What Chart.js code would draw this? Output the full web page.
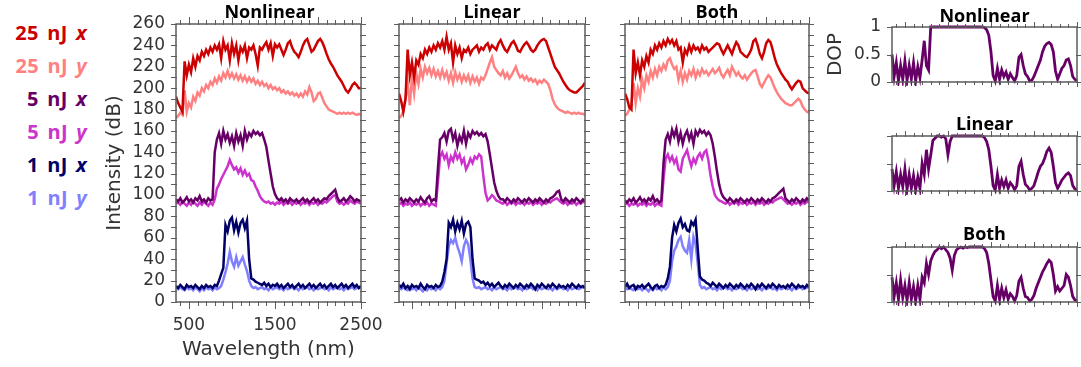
<!DOCTYPE html>
<html>
<head>
<meta charset="utf-8">
<script src="https://cdn.jsdelivr.net/npm/chart.js@4.4.0/dist/chart.umd.min.js"></script>
<style>
  html, body { margin: 0; padding: 0; background: #fff; }
  body { width: 1081px; height: 367px; position: relative; overflow: hidden; }
  canvas { position: absolute; }
  #legend { position: absolute; left: 0; top: 16px; width: 87px; text-align: right;
            font: bold 20px/33px "Open Sans", sans-serif; white-space: nowrap; word-spacing: 3px; letter-spacing: 0.3px; }
</style>
</head>
<body>
<div id="legend"></div>
<canvas id="c1" width="288" height="367" style="left:95px;top:0px"></canvas>
<canvas id="c2" width="205" height="367" style="left:390px;top:0px"></canvas>
<canvas id="c3" width="205" height="367" style="left:615px;top:0px"></canvas>
<canvas id="d1" width="261" height="100" style="left:820px;top:0px"></canvas>
<canvas id="d2" width="261" height="90" style="left:820px;top:110px"></canvas>
<canvas id="d3" width="261" height="100" style="left:820px;top:220px"></canvas>
<script>
// ---------------- DATA ----------------
const wavelength = [
  350,375,400,425,450,475,500,525,
  550,575,600,625,650,675,700,725,
  750,775,800,825,850,875,900,925,
  950,975,1000,1025,1050,1075,1100,1125,
  1150,1175,1200,1225,1250,1275,1300,1325,
  1350,1375,1400,1425,1450,1475,1500,1525,
  1550,1575,1600,1625,1650,1675,1700,1725,
  1750,1775,1800,1825,1850,1875,1900,1925,
  1950,1975,2000,2025,2050,2075,2100,2125,
  2150,2175,2200,2225,2250,2275,2300,2325,
  2350,2375,2400,2425,2450,2475,2500];

const seriesNames = ['25 nJ x','25 nJ y','5 nJ x','5 nJ y','1 nJ x','1 nJ y'];
const panelTitles = ['Nonlinear','Linear','Both'];

// Nonlinear panel
const NL_25x = [
  192,186,182,178,225,212,222,215,
  228,220,230,226,234,230,236,232,
  238,234,240,236,241,228,244,236,
  240,226,242,232,240,226,238,234,
  240,228,238,236,240,232,221,238,
  236,240,243,236,242,230,241,238,
  241,236,231,236,242,244,238,234,
  232,229,234,240,244,246,240,234,
  236,240,244,246,243,238,232,227,
  223,220,216,212,209,206,202,198,
  196,199,203,205,203,200,200];
const NL_25y = [
  172,174,177,175,198,178,186,182,
  192,188,196,193,200,197,203,200,
  206,203,209,205,211,207,214,210,
  216,210,214,209,213,208,212,207,
  211,206,210,206,209,204,207,203,
  206,202,204,200,203,199,201,198,
  200,196,198,195,197,194,196,193,
  195,192,195,192,197,194,201,196,
  188,190,195,196,191,186,183,180,
  179,178,177,176,177,176,177,176,
  177,176,177,176,175,176,175];
const NL_5x = [
  96,94,97,93,95,98,94,96,
  93,97,95,99,94,96,93,97,
  95,96,140,152,158,148,160,152,
  157,149,155,146,158,150,156,146,
  160,152,158,155,160,157,159,156,
  158,152,145,132,120,108,101,97,
  95,97,94,96,93,97,95,94,
  96,93,95,97,94,96,93,95,
  97,94,96,93,95,97,96,99,
  101,103,105,98,94,95,97,94,
  96,99,97,94,96,95,94];
const NL_5y = [
  92,93,91,94,92,90,93,91,
  94,92,90,93,91,94,92,90,
  93,91,96,106,110,115,119,123,
  127,133,128,124,126,121,125,119,
  123,118,120,114,113,108,104,99,
  96,94,93,94,92,93,91,93,
  92,94,91,93,92,94,91,93,
  92,94,91,93,92,94,91,93,
  92,94,91,93,92,94,93,95,
  97,99,100,94,92,93,91,93,
  92,95,93,92,94,93,92];
const NL_1x = [
  15,13,16,14,12,16,14,15,
  13,16,14,12,15,13,16,14,
  15,13,16,15,20,26,32,72,
  66,76,79,67,75,65,74,77,
  69,76,40,22,21,19,18,17,
  16,18,15,17,14,16,15,17,
  14,16,13,15,17,14,16,13,
  15,17,14,16,13,15,17,14,
  16,13,15,17,14,16,13,15,
  17,14,16,13,15,17,14,16,
  13,15,17,14,16,13,15];
const NL_1y = [
  13,12,14,12,11,14,12,13,
  11,14,12,10,13,11,14,12,
  13,11,14,12,13,15,21,28,
  36,47,38,33,42,34,38,42,
  35,29,20,15,13,14,12,13,
  14,12,13,11,14,12,13,14,
  12,13,11,14,12,13,14,12,
  13,11,14,12,13,14,12,13,
  11,14,12,13,14,12,13,11,
  14,12,13,14,12,13,11,14,
  12,13,14,12,13,14,13];

// Linear panel
const LI_25x = [
  195,188,178,190,236,212,224,210,
  226,222,232,228,236,232,238,234,
  240,236,242,238,244,236,248,236,
  242,224,240,232,238,228,236,234,
  238,232,236,238,240,234,238,236,
  240,242,236,240,238,236,242,245,
  240,236,234,238,242,244,240,235,
  234,238,241,243,240,236,234,236,
  240,243,245,246,244,238,232,226,
  220,217,214,210,206,203,200,198,
  197,196,196,198,200,202,205];
const LI_25y = [
  172,174,178,190,205,184,210,195,
  214,204,218,210,220,214,219,212,
  218,211,216,210,217,210,215,207,
  214,205,215,208,213,206,212,207,
  212,205,211,206,210,204,210,208,
  212,218,224,229,220,217,214,212,
  216,210,214,209,212,216,220,214,
  210,212,208,211,207,209,206,208,
  204,207,205,208,206,204,198,190,
  185,182,180,179,178,177,178,177,
  176,177,176,177,176,176,175];
const LI_5x = [
  95,97,93,96,94,97,95,93,
  96,94,98,95,93,97,99,94,
  96,95,125,152,154,158,150,160,
  162,152,158,146,155,150,160,148,
  158,154,160,157,159,156,158,155,
  157,150,138,125,112,104,99,96,
  96,94,97,95,93,96,94,97,
  95,93,96,94,97,95,93,96,
  94,97,95,93,96,94,97,98,
  100,103,104,96,94,97,95,93,
  96,94,97,95,93,96,94];
const LI_5y = [
  91,93,90,92,91,93,90,92,
  91,93,90,92,91,93,90,92,
  91,90,112,136,140,134,138,128,
  136,132,140,134,138,130,134,124,
  128,134,130,136,134,138,136,118,
  102,95,97,100,98,95,94,93,
  92,94,91,93,92,94,91,93,
  92,94,91,93,92,94,91,93,
  92,94,91,93,92,94,93,95,
  96,97,95,93,92,94,91,93,
  92,94,91,93,92,94,93];
const LI_1x = [
  16,14,17,13,15,12,16,14,
  15,13,17,14,12,16,14,15,
  13,16,14,15,19,28,40,74,
  70,77,66,74,68,76,64,73,
  75,70,40,22,21,20,18,19,
  16,18,15,17,14,16,18,15,
  13,16,14,17,15,13,16,14,
  17,15,13,16,14,17,15,12,
  16,14,17,15,13,16,14,17,
  15,13,16,14,15,13,16,14,
  17,15,13,16,14,15,13];
const LI_1y = [
  13,12,14,12,11,14,12,13,
  11,14,12,10,13,11,14,12,
  13,11,14,12,14,20,36,52,
  58,55,60,52,46,38,52,58,
  54,40,22,14,13,14,12,13,
  14,12,13,11,14,12,13,14,
  12,13,11,14,12,13,14,12,
  13,11,14,12,13,14,12,13,
  11,14,12,13,14,12,13,11,
  14,12,13,14,12,13,11,14,
  12,13,14,12,13,14,13];

// Both panel
const BO_25x = [
  195,190,182,180,236,214,224,212,
  226,220,230,224,236,232,240,236,
  242,238,244,240,246,242,245,240,
  244,236,238,224,236,232,240,234,
  240,236,238,234,240,236,238,234,
  236,238,240,242,241,236,232,236,
  240,236,232,238,243,240,234,232,
  230,229,232,236,244,246,240,232,
  228,234,242,245,243,236,228,222,
  218,214,211,208,206,202,199,202,
  205,207,206,200,198,196,195];
const BO_25y = [
  174,176,180,184,205,186,200,192,
  208,200,212,206,216,210,218,212,
  220,216,222,218,226,228,222,218,
  220,208,216,206,214,208,216,212,
  218,210,216,212,218,214,216,212,
  215,218,214,216,219,213,210,214,
  217,212,220,216,212,215,211,209,
  212,208,211,214,216,217,211,204,
  201,205,209,212,210,205,200,196,
  193,190,188,186,185,184,184,186,
  188,190,188,183,180,178,177];
const BO_5x = [
  95,93,96,94,97,93,95,98,
  94,96,93,97,95,99,94,96,
  93,95,130,152,157,150,161,155,
  162,150,158,148,156,160,152,158,
  148,160,156,161,158,160,156,159,
  156,148,136,122,110,102,98,96,
  94,97,95,93,96,94,97,95,
  93,96,94,97,95,93,96,94,
  97,95,93,96,94,97,98,100,
  102,104,106,97,95,93,96,94,
  97,95,93,96,94,97,95];
const BO_5y = [
  91,93,90,92,91,93,90,92,
  91,93,90,92,91,93,90,92,
  91,90,115,134,138,132,136,130,
  134,124,122,134,138,142,134,127,
  134,130,136,139,134,140,142,132,
  118,108,100,97,95,94,93,92,
  94,91,93,92,94,91,93,92,
  94,91,93,92,94,91,93,92,
  94,91,93,92,94,93,95,96,
  97,98,96,94,92,93,91,93,
  92,94,91,93,92,94,93];
const BO_1x = [
  14,17,13,15,16,12,15,14,
  16,13,15,17,14,12,15,16,
  13,15,14,16,22,33,60,72,
  66,74,78,70,73,67,66,75,
  72,77,50,24,21,20,18,17,
  15,18,16,14,17,15,13,16,
  14,17,15,13,16,14,17,15,
  13,16,14,17,15,12,16,14,
  17,15,13,16,14,17,15,13,
  16,14,15,13,16,14,17,15,
  13,16,14,15,13,16,14];
const BO_1y = [
  13,12,14,12,11,14,12,13,
  11,14,12,10,13,11,14,12,
  13,11,14,12,14,20,38,48,
  52,58,61,52,48,46,58,40,
  61,54,36,16,13,14,12,13,
  14,12,13,11,14,12,13,14,
  12,13,11,14,12,13,14,12,
  13,11,14,12,13,14,12,13,
  11,14,12,13,14,12,13,11,
  14,12,13,14,12,13,11,14,
  12,13,14,12,13,14,13];

// Degree of polarization
const DOP_NL = [
  0.5,0.1,0.35,0.02,0.3,0.05,0.38,0.03,
  0.3,0.06,0.35,0.02,0.28,0.08,0.4,0.75,
  0.3,0.22,1,1,1,1,1,1,
  1,1,1,1,1,1,1,1,
  1,1,1,1,1,1,1,1,
  1,1,1,0.99,0.95,0.85,0.55,0.12,
  0.02,0.25,0.05,0.22,0.1,0.18,0.05,0.15,
  0.08,0.02,0.12,0.45,0.5,0.3,0.15,0.1,
  0.02,0.03,0.1,0.2,0.3,0.4,0.55,0.65,
  0.7,0.72,0.68,0.55,0.2,0.05,0.15,0.25,
  0.3,0.4,0.42,0.3,0.1,0.05,0.02];
const DOP_LI = [
  0.4,0.1,0.35,0.05,0.3,0.08,0.4,0.03,
  0.3,0.05,0.28,0.02,0.25,0.05,0.5,0.3,
  0.75,0.4,0.65,0.92,0.96,1,1,0.98,
  1,0.95,0.66,0.9,1,1,1,1,
  1,1,1,1,1,1,1,1,
  1,1,1,0.97,0.9,0.75,0.45,0.1,
  0.02,0.3,0.05,0.2,0.08,0.2,0.05,0.15,
  0.1,0.02,0.1,0.45,0.54,0.3,0.12,0.08,
  0.02,0.05,0.1,0.22,0.35,0.45,0.5,0.6,
  0.72,0.78,0.7,0.45,0.15,0.05,0.12,0.2,
  0.25,0.3,0.33,0.28,0.1,0.04,0.02];
const DOP_BO = [
  0.45,0.1,0.35,0.05,0.4,0.08,0.3,0.03,
  0.35,0.05,0.28,0.02,0.3,0.05,0.45,0.35,
  0.7,0.5,0.75,0.85,0.92,0.95,1,0.97,
  1,0.95,0.9,0.8,0.58,0.85,0.95,0.98,
  1,0.98,1,0.99,1,1,1,1,
  1,1,1,0.97,0.9,0.7,0.4,0.1,
  0.02,0.3,0.05,0.25,0.08,0.22,0.05,0.15,
  0.1,0.02,0.12,0.38,0.45,0.25,0.1,0.08,
  0.02,0.05,0.12,0.25,0.35,0.45,0.55,0.62,
  0.7,0.76,0.72,0.5,0.2,0.28,0.2,0.25,
  0.3,0.5,0.45,0.3,0.1,0.04,0.02];

// Tick positions and labels
const xTickLabels = [500,1500,2500];
const xMajorTicks = [500,1000,1500,2000,2500];
const xMinorTicks = [400,500,600,700,800,900,1000,1100,1200,1300,1400,1500,1600,1700,1800,1900,2000,2100,2200,2300,2400,2500];
const yTickLabels = [0,20,40,60,80,100,120,140,160,180,200,220,240,260];
const yMinorTicks = [0,10,20,30,40,50,60,70,80,90,100,110,120,130,140,150,160,170,180,190,200,210,220,230,240,250,260];
const dopTickLabels = [0,0.5,1];

// ---------------- CHECK ----------------
const checkList = {NL_25x,NL_25y,NL_5x,NL_5y,NL_1x,NL_1y,LI_25x,LI_25y,LI_5x,LI_5y,LI_1x,LI_1y,
  BO_25x,BO_25y,BO_5x,BO_5y,BO_1x,BO_1y,DOP_NL,DOP_LI,DOP_BO};
for (const [k, v] of Object.entries(checkList)) {
  if (v.length !== wavelength.length) throw new Error(k + ' has ' + v.length + ' values, expected ' + wavelength.length);
}

// ---------------- STYLE ----------------
const colors = ['#cc0000','#ff8080','#660066','#cc33cc','#000066','#8080ff'];
const TXT = '#333333';
const AXC = '#5c5c5c';

// legend (HTML text)
const legend = document.getElementById('legend');
seriesNames.forEach((name, i) => {
  const d = document.createElement('div');
  d.style.color = colors[i];
  const parts = name.split(' ');
  d.innerHTML = parts[0] + ' ' + parts[1] + ' <i>' + parts[2] + '</i>';
  legend.appendChild(d);
});

function pts(arr) { return arr.map((v, i) => ({x: wavelength[i], y: v})); }

const framePlugin = {
  id: 'frame',
  afterDraw(chart, args, o) {
    const {ctx, chartArea: a} = chart;
    const xs = chart.scales.x, ys = chart.scales.y;
    ctx.save();
    ctx.strokeStyle = AXC;
    ctx.lineWidth = 1;
    ctx.beginPath();
    for (const v of o.xTicks) {
      const px = Math.round(xs.getPixelForValue(v)) + 0.5;
      const len = o.xMajor.includes(v) ? o.majLen : o.minLen;
      ctx.moveTo(px, a.bottom - 1); ctx.lineTo(px, a.bottom + len);
      ctx.moveTo(px, a.top + 1); ctx.lineTo(px, a.top - len);
    }
    for (const v of o.yTicks) {
      const py = Math.round(ys.getPixelForValue(v)) + 0.5;
      ctx.moveTo(a.left - o.yLen, py); ctx.lineTo(a.left + 1, py);
      ctx.moveTo(a.right - 1, py); ctx.lineTo(a.right + o.yLen, py);
    }
    ctx.stroke();
    ctx.lineWidth = 1.5;
    ctx.strokeRect(a.left, a.top, a.right - a.left, a.bottom - a.top);
    ctx.fillStyle = '#000';
    ctx.font = 'bold 18px "Open Sans"';
    ctx.textAlign = 'center';
    ctx.textBaseline = 'alphabetic';
    ctx.fillText(o.title, (a.left + a.right) / 2 + (o.titleDx || 0), o.titleY);
    ctx.restore();
  }
};

function spectrum(id, title, s, opt) {
  const datasets = s.map((arr, i) => ({
    label: seriesNames[i], data: pts(arr), borderColor: colors[i],
    borderWidth: 2.5, pointRadius: 0, tension: 0, fill: false
  }));
  return new Chart(document.getElementById(id), {
    type: 'line',
    data: {datasets},
    options: {
      responsive: false, animation: false, devicePixelRatio: 1,
      layout: {padding: {top: 24, right: opt.padR, left: 0, bottom: 0}},
      plugins: {
        legend: {display: false}, tooltip: {enabled: false},
        frame: {title, titleY: 17.5, titleDx: opt.titleDx || 0, xTicks: xMinorTicks, xMajor: xMajorTicks,
                majLen: 7, minLen: 4, yTicks: yMinorTicks, yLen: 5}
      },
      scales: {
        x: {
          type: 'linear', min: 350, max: 2500,
          grid: {display: false, drawTicks: false}, border: {display: false},
          afterBuildTicks: sc => { sc.ticks = xTickLabels.map(v => ({value: v})); },
          afterFit: sc => { sc.height = 65; sc.paddingLeft = 0; sc.paddingRight = 0; },
          ticks: {display: opt.labels, autoSkip: false, maxRotation: 0, padding: 13, color: TXT,
                  font: {family: 'DejaVu Sans', size: 17}, callback: v => String(v)},
          title: {display: opt.labels, text: 'Wavelength (nm)', color: TXT,
                  font: {family: 'DejaVu Sans', size: 20}, padding: {top: 0, bottom: 5}}
        },
        y: {
          type: 'linear', min: 0, max: 260,
          grid: {display: false, drawTicks: false}, border: {display: false},
          afterBuildTicks: sc => { sc.ticks = yTickLabels.map(v => ({value: v})); },
          afterFit: sc => { sc.width = opt.axisW; sc.paddingTop = 0; sc.paddingBottom = 0; },
          ticks: {display: opt.labels, autoSkip: false, padding: 11, color: TXT,
                  font: {family: 'DejaVu Sans', size: 17}, callback: v => String(v)},
          title: {display: opt.labels, text: 'Intensity (dB)', color: TXT,
                  font: {family: 'DejaVu Sans', size: 20}, padding: {top: 8, bottom: 0}}
        }
      }
    },
    plugins: [framePlugin]
  });
}

function dop(id, title, arr, opt) {
  return new Chart(document.getElementById(id), {
    type: 'line',
    data: {datasets: [{label: 'DOP', data: pts(arr), borderColor: '#660066', borderWidth: 2.8,
                       pointRadius: 0, tension: 0, fill: false, clip: 4}]},
    options: {
      responsive: false, animation: false, devicePixelRatio: 1,
      layout: {padding: {top: opt.padT, right: 4, left: 0, bottom: 0}},
      plugins: {
        legend: {display: false}, tooltip: {enabled: false},
        frame: {title, titleY: opt.titleY, xTicks: xMinorTicks, xMajor: xMajorTicks,
                majLen: 5, minLen: 3, yTicks: dopTickLabels, yLen: 5}
      },
      scales: {
        x: {
          type: 'linear', min: 350, max: 2500,
          grid: {display: false, drawTicks: false}, border: {display: false},
          afterFit: sc => { sc.height = opt.xH; sc.paddingLeft = 0; sc.paddingRight = 0; },
          ticks: {display: false}
        },
        y: {
          type: 'linear', min: 0, max: 1,
          grid: {display: false, drawTicks: false}, border: {display: false},
          afterBuildTicks: sc => { sc.ticks = dopTickLabels.map(v => ({value: v})); },
          afterFit: sc => { sc.width = 72; sc.paddingTop = 0; sc.paddingBottom = 0; },
          ticks: {display: opt.labels, autoSkip: false, padding: 11, color: TXT,
                  font: {family: 'DejaVu Sans', size: 17}, callback: v => String(v)},
          title: {display: opt.labels, text: 'DOP', color: TXT,
                  font: {family: 'DejaVu Sans', size: 20}, padding: {top: 4, bottom: 0}}
        }
      }
    },
    plugins: [framePlugin]
  });
}

spectrum('c1', panelTitles[0], [NL_25x, NL_25y, NL_5x, NL_5y, NL_1x, NL_1y], {labels: true, axisW: 81, padR: 22, titleDx: 1});
spectrum('c2', panelTitles[1], [LI_25x, LI_25y, LI_5x, LI_5y, LI_1x, LI_1y], {labels: false, axisW: 9, padR: 10});
spectrum('c3', panelTitles[2], [BO_25x, BO_25y, BO_5x, BO_5y, BO_1x, BO_1y], {labels: false, axisW: 10, padR: 11});
dop('d1', panelTitles[0], DOP_NL, {labels: true, padT: 27, xH: 18, titleY: 22});
dop('d2', panelTitles[1], DOP_LI, {labels: false, padT: 26, xH: 9, titleY: 20});
dop('d3', panelTitles[2], DOP_BO, {labels: false, padT: 27, xH: 18, titleY: 20});
</script>
</body>
</html>
